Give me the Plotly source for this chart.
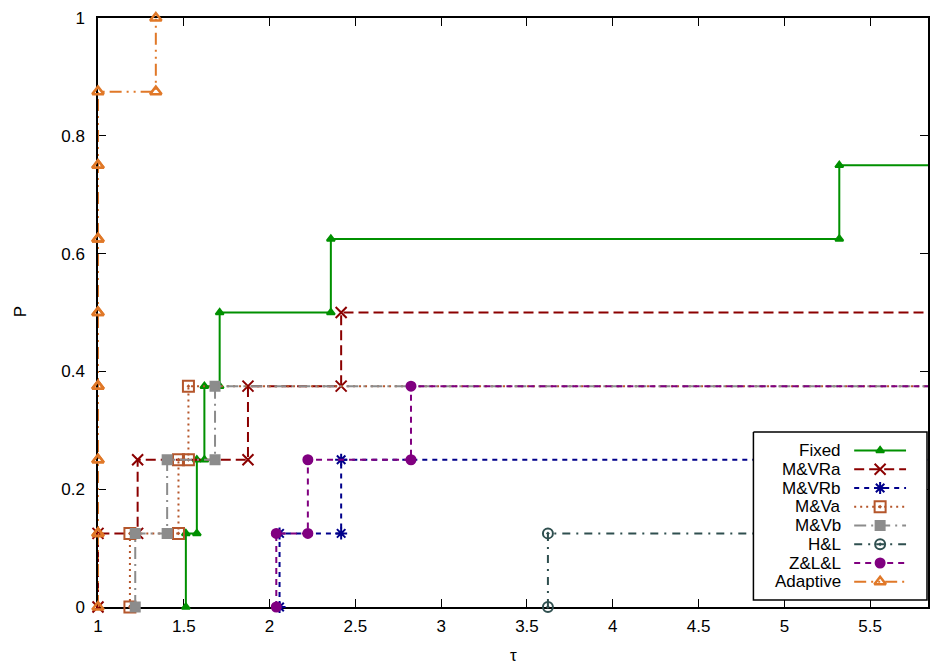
import plotly.graph_objects as go

# ---------------- data (performance-profile breakpoints) ----------------
n_problems = 8
series_names = ["Fixed", "M&VRa", "M&VRb", "M&Va", "M&Vb", "H&L", "Z&L&L", "Adaptive"]
fixed_tau = [1.512, 1.576, 1.620, 1.709, 2.357, 5.320]
mvra_tau = [1.0, 1.231, 1.874, 2.417]
mvrb_tau = [2.058, 2.417]
mva_tau = [1.186, 1.469, 1.527]
mvb_tau = [1.217, 1.403, 1.682]
hl_tau = [3.622]
zll_tau = [2.039, 2.223, 2.824]
adaptive_tau = [1.0, 1.0, 1.0, 1.0, 1.0, 1.0, 1.0, 1.337]
series_taus = [fixed_tau, mvra_tau, mvrb_tau, mva_tau, mvb_tau, hl_tau, zll_tau, adaptive_tau]

x_ticks = [1, 1.5, 2, 2.5, 3, 3.5, 4, 4.5, 5, 5.5]
x_tick_labels = ["1", "1.5", "2", "2.5", "3", "3.5", "4", "4.5", "5", "5.5"]
y_ticks = [0, 0.2, 0.4, 0.6, 0.8, 1.0]
y_tick_labels = ["0", "0.2", "0.4", "0.6", "0.8", "1"]
x_range = [1.0, 5.837]
y_range = [0.0, 1.0]

# ---------------- styles ----------------
colors = ["#009000", "#8b0000", "#00008b", "#b5562b", "#8c8c8c", "#2f4f4f", "#800080", "#e07828"]
dashes = ["solid", "10px,5px", "5px,5px", "2px,4px", "12px,5px,2px,5px",
          "8px,6px,2px,6px", "6px,5px", "12px,5px,2px,5px,2px,5px"]
symbols = ["triangle-up", "x-thin-open", "asterisk-open", "square-open-dot", "square",
           "circle-open-dot", "circle", "triangle-up-open"]
msizes = [7, 11, 10, 11, 9, 10, 9, 10]
mlw = [2, 2, 2, 2, 2, 2, 2, 2.5]

W, H = 932, 664
L, R, T, B = 98, 930, 18, 607  # plot area in pixels

fig = go.Figure()


def corners(taus):
    xs, ys = [], []
    for i, t in enumerate(taus):
        xs += [t, t]
        ys += [i / n_problems, (i + 1) / n_problems]
    return xs, ys


for name, taus, c, d, s, ms, lw in zip(series_names, series_taus, colors, dashes, symbols, msizes, mlw):
    xs, ys = corners(taus)
    lx, ly = list(xs), list(ys)
    if ly[-1] < 1.0:
        lx.append(x_range[1] + 1)
        ly.append(ly[-1])
    fig.add_trace(go.Scatter(x=lx, y=ly, mode="lines",
                             line=dict(color=c, width=2, dash=d), showlegend=False,
                             hoverinfo="skip"))
    fig.add_trace(go.Scatter(x=xs, y=ys, mode="markers", cliponaxis=False,
                             marker=dict(symbol=s, size=ms, color=c, line=dict(color=c, width=lw)),
                             showlegend=False, name=name))

# ---------------- custom gnuplot-style key (pixel coordinates) ----------------
box = [755, 929, 432, 600]
fig.add_trace(go.Scatter(x=[box[0], box[1], box[1], box[0], box[0]],
                         y=[box[2], box[2], box[3], box[3], box[2]],
                         mode="lines", fill="toself", fillcolor="white",
                         line=dict(color="black", width=1.5),
                         xaxis="x2", yaxis="y2", showlegend=False, hoverinfo="skip"))
row_y0, row_dy = 450.5, 18.75
sx0, sx1, smid, text_right = 856, 908, 882, 845
for i, (name, c, d, s, ms, lw) in enumerate(zip(series_names, colors, dashes, symbols, msizes, mlw)):
    yy = row_y0 + i * row_dy
    fig.add_trace(go.Scatter(x=[sx0, sx1], y=[yy, yy], mode="lines",
                             line=dict(color=c, width=2, dash=d),
                             xaxis="x2", yaxis="y2", showlegend=False, hoverinfo="skip"))
    fig.add_trace(go.Scatter(x=[smid], y=[yy], mode="markers", cliponaxis=False,
                             marker=dict(symbol=s, size=ms, color=c, line=dict(color=c, width=lw)),
                             xaxis="x2", yaxis="y2", showlegend=False, hoverinfo="skip"))
    fig.add_annotation(x=(text_right - L) / (R - L), y=(B - yy) / (B - T), xref="paper",
                       yref="paper", text=name, showarrow=False, xanchor="right",
                       yanchor="middle", font=dict(size=17, color="black"))

# axis titles
fig.add_annotation(x=(515 - L) / (R - L), y=(B - 655) / (B - T), xref="paper", yref="paper",
                   text="τ", showarrow=False, xanchor="center", yanchor="middle",
                   font=dict(size=17, color="black"))
fig.add_annotation(x=(20 - L) / (R - L), y=(B - 312) / (B - T), xref="paper", yref="paper",
                   text="P", showarrow=False, xanchor="center", yanchor="middle", textangle=-90,
                   font=dict(size=17, color="black"))

axis_common = dict(showgrid=False, zeroline=False, showline=True, linecolor="black",
                   linewidth=1.5, mirror="ticks", ticks="inside", ticklen=8, tickwidth=1.2,
                   tickcolor="black", tickfont=dict(size=17, color="black"),
                   layer="below traces")
fig.update_layout(
    width=W, height=H,
    margin=dict(l=L, r=W - R, t=T, b=H - B, pad=0),
    paper_bgcolor="white", plot_bgcolor="white",
    font=dict(family="Liberation Sans, Arial, sans-serif", size=17, color="black"),
    xaxis=dict(range=x_range, tickvals=x_ticks, ticktext=x_tick_labels,
               ticklabelstandoff=3, **axis_common),
    yaxis=dict(range=y_range, tickvals=y_ticks, ticktext=y_tick_labels,
               ticklabelstandoff=8, **axis_common),
    xaxis2=dict(overlaying="x", range=[L, R], visible=False, fixedrange=True),
    yaxis2=dict(overlaying="y", range=[B, T], visible=False, fixedrange=True),
    showlegend=False,
)

fig.write_html("out.html")
